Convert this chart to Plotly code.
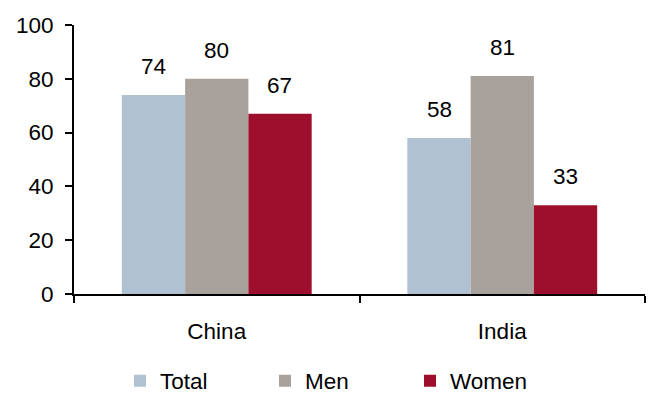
import plotly.graph_objects as go

# Share of population (%), by country and group
countries = ["China", "India"]
total = [74, 58]
men = [80, 81]
women = [67, 33]

series = [
    ("Total", total, "#B0C2D2"),
    ("Men", men, "#A9A19B"),
    ("Women", women, "#9E0F2E"),
]

FONT = "Liberation Sans, Arial, sans-serif"
FSIZE = 22.5
BAR_PX = 63  # width of one bar in px, used to place the value labels

fig = go.Figure()
for name, vals, color in series:
    fig.add_trace(go.Bar(
        name=name, x=countries, y=vals,
        marker=dict(color=color, line=dict(width=0)),
    ))

# value labels above each bar
annotations = []
for i, (name, vals, color) in enumerate(series):
    for c, v in zip(countries, vals):
        annotations.append(dict(
            x=c, y=v, xref="x", yref="y", text=str(v), showarrow=False,
            xshift=(i - 1) * BAR_PX, yshift=14, yanchor="bottom",
            font=dict(family=FONT, size=FSIZE, color="black"),
        ))

fig.update_layout(
    width=652, height=393,
    margin=dict(l=74, r=7, t=25, b=99),
    paper_bgcolor="white", plot_bgcolor="white",
    barmode="group", bargap=0.335, bargroupgap=0,
    font=dict(family=FONT, size=FSIZE, color="black"),
    showlegend=True,
    legend=dict(
        orientation="h", xref="container", yref="container",
        x=120 / 652, y=1 - 381 / 393, xanchor="left", yanchor="middle",
        entrywidth=100, font=dict(family=FONT, size=FSIZE, color="black"),
        bgcolor="rgba(0,0,0,0)",
    ),
    annotations=annotations,
)

fig.update_xaxes(
    showline=True, linecolor="black", linewidth=2,
    ticks="outside", tickson="boundaries", ticklen=7, tickwidth=2,
    tickcolor="black", ticklabelstandoff=16, showgrid=False,
)
fig.update_yaxes(
    range=[0, 100], dtick=20, showline=True, linecolor="black", linewidth=2,
    ticks="outside", ticklen=7, tickwidth=2, tickcolor="black",
    ticklabelstandoff=7, showgrid=False, zeroline=False,
)

fig.write_html("out.html")
